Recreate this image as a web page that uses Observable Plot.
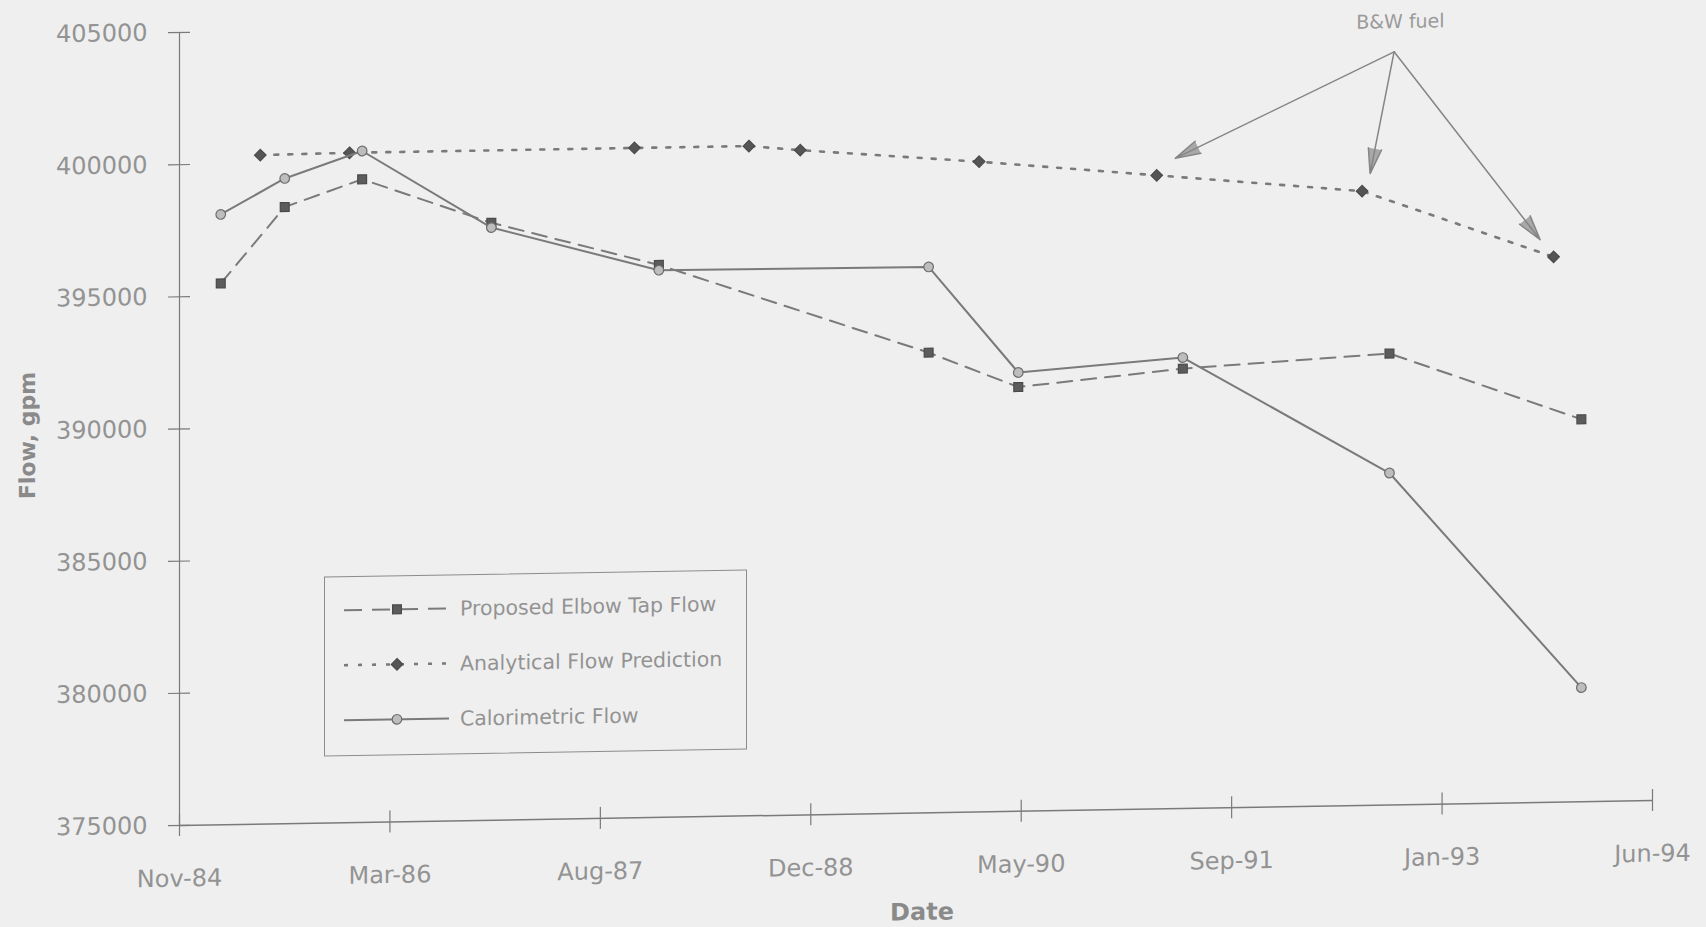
<!DOCTYPE html>
<html>
<head>
<meta charset="utf-8">
<script src="https://cdn.jsdelivr.net/npm/d3@7"></script>
<script src="https://cdn.jsdelivr.net/npm/@observablehq/plot@0.6"></script>
<style>
  html, body { margin: 0; padding: 0; background: #efefef; width: 1706px; height: 927px; overflow: hidden; }
  /* the printed sheet sits slightly askew */
  #chart { position: relative; width: 1706px; height: 950px; transform-origin: 179px 825px; transform: skewY(-0.97deg); }
  #chart svg { display: block; }
  #legend { position: absolute; left: 324px; top: 579px; width: 423px; height: 180px; box-sizing: border-box;
            border: 1.5px solid #8c8c8c; }
  #legend svg { position: absolute; left: 0; top: 0; }
</style>
</head>
<body>
<div id="chart"><div id="legend"></div></div>
<script>
// Survey dates shared by the elbow tap and calorimetric series
const surveyDates = ["1985-02-20", "1985-07-22", "1986-01-22", "1986-11-25", "1987-12-28",
                     "1989-09-29", "1990-04-30", "1991-05-26", "1992-09-28", "1993-12-28"];
const elbowTapFlow = [395480, 398330, 399330, 397600, 395900, 392410, 391050, 391640, 392080, 389470];
const calorimetricFlow = [398090, 399410, 400400, 397420, 395700, 395650, 391600, 392060, 387560, 379320];

// Analytical prediction, on its own dates
const predictionDates = ["1985-05-25", "1985-12-23", "1987-10-31", "1988-07-29", "1988-11-28",
                         "1990-01-27", "1991-03-25", "1992-07-25", "1993-10-23"];
const analyticalFlow = [400310, 400340, 400340, 400340, 400150, 399600, 398970, 398240, 395630];

// Axis ticks (x every 500 days)
const xTickDates = ["1984-11-14", "1986-03-29", "1987-08-11", "1988-12-23",
                    "1990-05-07", "1991-09-19", "1993-01-31", "1994-06-15"];
const xTickLabels = ["Nov-84", "Mar-86", "Aug-87", "Dec-88", "May-90", "Sep-91", "Jan-93", "Jun-94"];
const yTicks = [375000, 380000, 385000, 390000, 395000, 400000, 405000];
const yTickLabels = ["375000", "380000", "385000", "390000", "395000", "400000", "405000"];

// "B&W fuel" note and its three arrows
const noteText = "B&W fuel";
const noteDate = "1992-10-24";
const noteValue = 404620;
const arrowFromDate = "1992-10-09";
const arrowFromValue = 403490;
const arrowToDates = ["1991-05-08", "1992-08-13", "1993-09-21"];
const arrowToValues = [399600, 398900, 396290];

const seriesNames = ["Proposed Elbow Tap Flow", "Analytical Flow Prediction", "Calorimetric Flow"];

const parse = d3.utcParse("%Y-%m-%d");
const xTicks = xTickDates.map(parse);
const toRows = (dates, values) => dates.map((d, i) => ({date: parse(d), flow: values[i]}));
const elbow = toRows(surveyDates, elbowTapFlow);
const calor = toRows(surveyDates, calorimetricFlow);
const analytic = toRows(predictionDates, analyticalFlow);
const arrows = arrowToDates.map((d, i) => ({
  x1: parse(arrowFromDate), y1: arrowFromValue, x2: parse(d), y2: arrowToValues[i]
}));

const ink = "#7a7a7a";
const textInk = "#939393";
const font = "DejaVu Sans, sans-serif";

const styles = [
  {dash: "15,9", legendDash: "18,10", width: 2, symbol: "square", d3symbol: d3.symbolSquare, r: 5, fill: "#5c5c5c", stroke: "#4a4a4a"},
  {dash: "4,10", legendDash: "4,10", width: 2.6, symbol: "diamond2", d3symbol: d3.symbolDiamond2, r: 5.2, fill: "#555555", stroke: "#4a4a4a"},
  {dash: null, legendDash: null, width: 2, symbol: "circle", d3symbol: d3.symbolCircle, r: 4.8, fill: "#bdbdbd", stroke: "#6c6c6c"}
];

const lineMarks = (rows, s) => [
  Plot.line(rows, {x: "date", y: "flow", stroke: ink, strokeWidth: s.width, strokeDasharray: s.dash}),
  Plot.dot(rows, {x: "date", y: "flow", symbol: s.symbol, r: s.r, fill: s.fill, stroke: s.stroke, strokeWidth: 1.2})
];

const plot = Plot.plot({
  width: 1706,
  height: 950,
  marginLeft: 179,
  marginRight: 54,
  marginTop: 32,
  marginBottom: 125,
  style: {background: "transparent", fontFamily: font, fontSize: "24px", color: textInk},
  x: {type: "utc", domain: [xTicks[0], xTicks[xTicks.length - 1]]},
  y: {domain: [yTicks[0], yTicks[yTicks.length - 1]]},
  marks: [
    // axis lines
    Plot.ruleY([yTicks[0]], {stroke: ink, strokeWidth: 1.5}),
    Plot.ruleX([xTicks[0]], {stroke: ink, strokeWidth: 1.2}),
    // cross ticks
    Plot.axisX({ticks: xTicks, tickSize: 22, dy: -11, tickFormat: () => "", label: null, stroke: ink, strokeWidth: 1.2}),
    Plot.axisY({ticks: yTicks, tickSize: 22, dx: 11, tickFormat: () => "", label: null, stroke: ink, strokeWidth: 1.2}),
    // tick labels
    Plot.axisX({ticks: xTicks, tickSize: 0, tickPadding: 44, label: null, fill: textInk,
                tickFormat: d => xTickLabels[xTicks.findIndex(t => +t === +d)]}),
    Plot.axisY({ticks: yTicks, tickSize: 0, tickPadding: 32, label: null, fill: textInk,
                tickFormat: d => yTickLabels[yTicks.indexOf(d)]}),
    // axis titles
    Plot.text(["Flow, gpm"], {frameAnchor: "left", textAnchor: "middle", dx: -152, dy: 4, rotate: -90,
                              fontSize: 22, fontWeight: "bold", fill: "#8a8a8a"}),
    Plot.text(["Date"], {frameAnchor: "bottom", dx: 6, dy: 107, fontSize: 24, fontWeight: "bold", fill: "#8a8a8a"}),
    // series
    ...lineMarks(elbow, styles[0]),
    ...lineMarks(analytic, styles[1]),
    ...lineMarks(calor, styles[2]),
    // note
    Plot.arrow(arrows, {x1: "x1", y1: "y1", x2: "x2", y2: "y2", stroke: "#858585", strokeWidth: 1.5,
                        fill: "#a8a8a8", headLength: 26, headAngle: 30}),
    Plot.text([noteText], {x: () => parse(noteDate), y: () => noteValue, fontSize: 19, fill: "#9a9a9a"})
  ]
});

const chart = document.getElementById("chart");
chart.insertBefore(plot, chart.firstChild);

// Legend: one row per series, sample line with its marker
const legend = d3.select("#legend").append("svg").attr("width", 423).attr("height", 180);
const rowY = [33, 88, 143];
seriesNames.forEach((name, i) => {
  const s = styles[i];
  const g = legend.append("g").attr("transform", `translate(0,${rowY[i]})`);
  g.append("line").attr("x1", 19).attr("x2", 124).attr("y1", 0).attr("y2", 0)
    .attr("stroke", ink).attr("stroke-width", s.width).attr("stroke-dasharray", s.legendDash);
  g.append("path").attr("transform", "translate(72,0)")
    .attr("d", d3.symbol(s.d3symbol, Math.PI * s.r * s.r)())
    .attr("fill", s.fill).attr("stroke", s.stroke).attr("stroke-width", 1.2);
  g.append("text").attr("x", 135).attr("y", 0).attr("dy", "0.35em")
    .attr("font-family", font).attr("font-size", 20.5).attr("fill", textInk).text(name);
});
</script>
</body>
</html>
